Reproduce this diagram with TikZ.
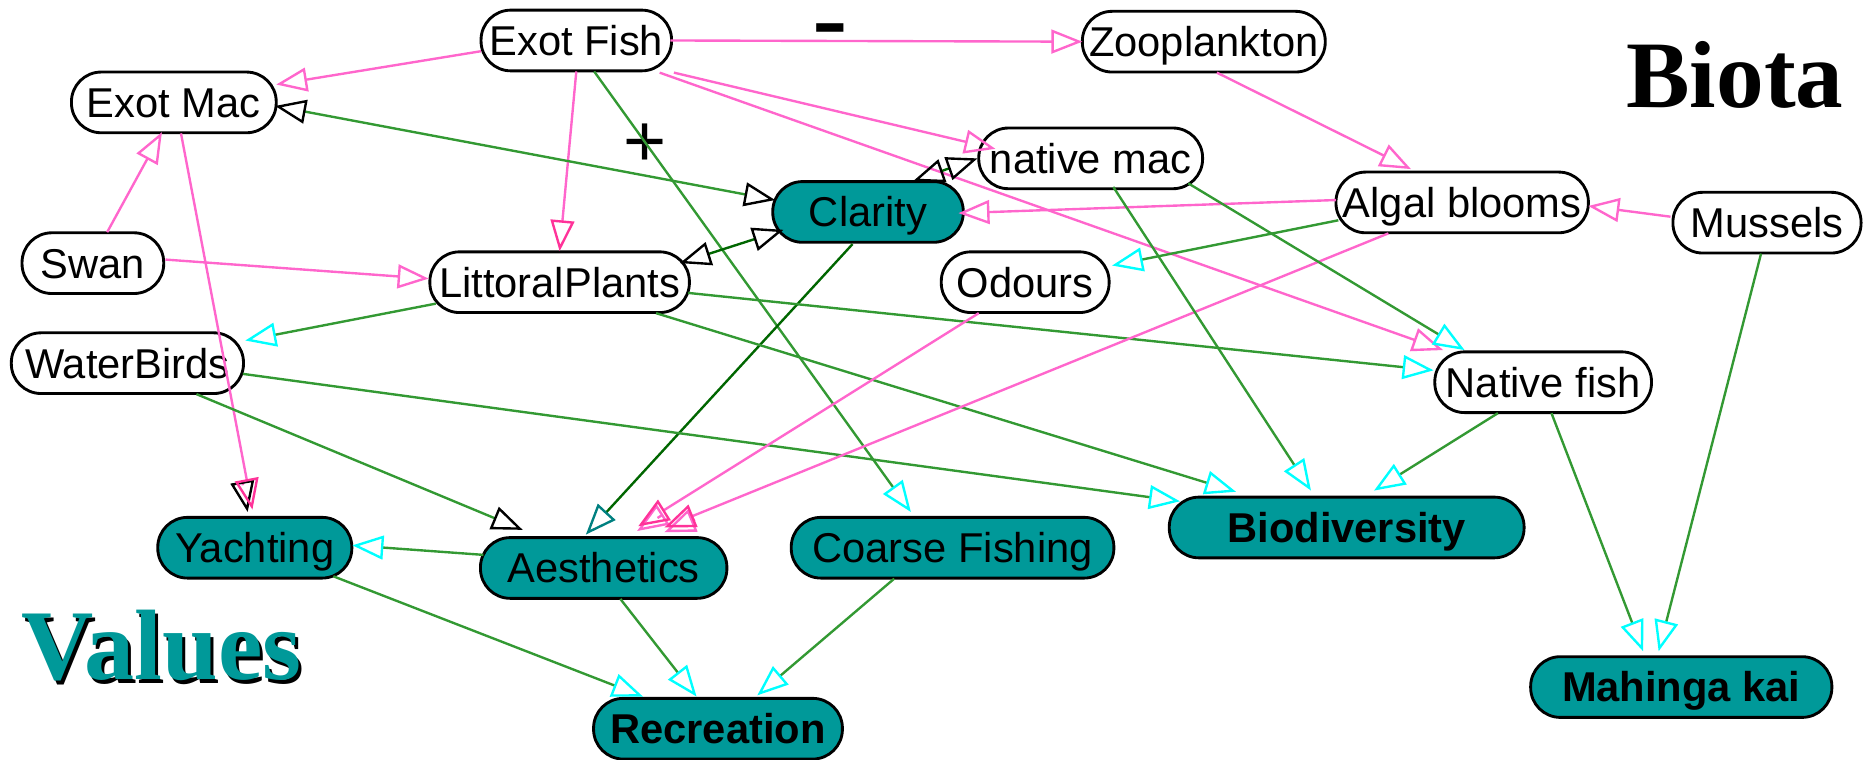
\documentclass[tikz,border=0pt]{standalone}
\usepackage{fontspec}
\setmainfont{Liberation Sans}
\newfontfamily\titlefont{Liberation Serif}
\usetikzlibrary{arrows.meta}

\definecolor{tealfill}{RGB}{0,153,153}
\definecolor{pinkline}{RGB}{255,102,204}
\definecolor{magentahead}{RGB}{255,51,153}
\definecolor{greenline}{RGB}{51,153,51}
\definecolor{darkgreen}{RGB}{0,102,0}
\definecolor{cyanhead}{RGB}{0,255,255}
\definecolor{tealhead}{RGB}{0,128,128}

\tikzset{
  box/.style={draw=black, line width=2.4pt, rounded corners=25pt, minimum height=51pt,
    inner sep=0pt, text height=25pt, text depth=0pt, font=\fontsize{35}{35}\selectfont},
  bio/.style={box, fill=white},
  val/.style={box, fill=tealfill},
  valb/.style={val, font=\fontsize{35}{35}\selectfont\bfseries},
  pk/.style={draw=pinkline, line width=2pt},
  gr/.style={draw=greenline, line width=2pt},
  dg/.style={draw=darkgreen, line width=2pt},
  tocyan/.style={arrows={-Triangle[open,length=26pt,width=20pt,color=cyanhead]}},
  topink/.style={arrows={-Triangle[open,length=26pt,width=20pt,color=pinkline]}},
  tomag/.style={arrows={-Triangle[open,length=26pt,width=20pt,color=magentahead]}},
  toblack/.style={arrows={-Triangle[open,length=26pt,width=20pt,color=black]}},
  toteal/.style={arrows={-Triangle[open,length=26pt,width=20pt,color=tealhead]}},
  bothblack/.style={arrows={Triangle[open,length=26pt,width=20pt,color=black]-Triangle[open,length=26pt,width=20pt,color=black]}},
  bigtitle/.style={inner sep=0pt, font=\titlefont\bfseries\fontsize{80}{80}\selectfont},
}

\begin{document}
\begin{tikzpicture}[x=1pt, y=-1pt]
\useasboundingbox (0,0) rectangle (1568,638);

% biota
\node[bio, minimum width=160pt] (exotfish)   at (484,34)   {Exot Fish};
\node[bio, minimum width=172pt] (exotmac)    at (146,86)   {Exot Mac};
\node[bio, minimum width=204pt] (zoo)        at (1011,35)  {Zooplankton};
\node[bio, minimum width=188pt] (nativemac)  at (916,133)  {native mac};
\node[bio, minimum width=212pt] (algal)      at (1228,170) {Algal blooms};
\node[bio, minimum width=158pt] (mussels)    at (1484,187) {Mussels};
\node[bio, minimum width=119pt] (swan)       at (78,221)   {Swan};
\node[bio, minimum width=218pt] (littoral)   at (470,237)  {LittoralPlants};
\node[bio, minimum width=141pt] (odours)     at (861,237)  {Odours};
\node[bio, minimum width=195pt] (waterbirds) at (107,305)  {WaterBirds};
\node[bio, minimum width=182pt] (nativefish) at (1296,321) {Native fish};

% values
\node[val,  minimum width=160pt] (clarity)    at (729,178)  {Clarity};
\node[val,  minimum width=163pt] (yachting)   at (214,460)  {Yachting};
\node[val,  minimum width=207pt] (aesthetics) at (507,477)  {Aesthetics};
\node[val,  minimum width=271pt] (coarse)     at (800,460)  {Coarse Fishing};
\node[valb, minimum width=298pt] (biodiv)     at (1131,443) {Biodiversity};
\node[valb, minimum width=253pt] (mahinga)    at (1412,577) {Mahinga kai};
\node[valb, minimum width=209pt] (recreation) at (603,612)  {Recreation};

% headings
\node[bigtitle, anchor=base] (biota) at (1457,90) {Biota};
\node[bigtitle, font=\titlefont\bfseries\fontsize{84}{84}\selectfont, anchor=base west, text=black] (valuesshadow) at (20.5,574) {Values};
\node[bigtitle, font=\titlefont\bfseries\fontsize{84}{84}\selectfont, anchor=base west, text=tealfill] (values) at (18,571) {Values};

% sign labels
\node[inner sep=0pt, anchor=base, font=\bfseries\fontsize{30}{30}\selectfont] (minus) at (697,39) {\scalebox{3}[2]{-}};
\node[inner sep=0pt, font=\fontsize{62}{62}\selectfont] (plus) at (542,122) {+};

% links from the exotic fish
\draw[pk, topink] ([shift={(-80,9)}]exotfish.center) -- ([shift={(86,-15)}]exotmac.center);
\draw[pk, topink] ([shift={(79,0)}]exotfish.center) -- ([shift={(-102,0)}]zoo.center);
\draw[pk, tomag]  ([shift={(0,26)}]exotfish.center) -- ([shift={(0,-26)}]littoral.center);
\draw[gr, tocyan] ([shift={(15,26)}]exotfish.center) -- ([shift={(-35,-30)}]coarse.center);
\draw[pk, topink] ([shift={(82,27)}]exotfish.center) -- ([shift={(-80,-8)}]nativemac.center);
\draw[pk, topink] ([shift={(70,27)}]exotfish.center) -- ([shift={(-84,-27)}]nativefish.center);

% clarity links
\draw[gr, bothblack] ([shift={(-78,-10)}]clarity.center) -- ([shift={(85,3)}]exotmac.center);
\draw[dg, bothblack] ([shift={(-71,15)}]clarity.center) -- ([shift={(101,-16)}]littoral.center);
\draw[dg, bothblack] ([shift={(38,-26)}]clarity.center) -- ([shift={(-95,0)}]nativemac.center);
\draw[pk, topink] ([shift={(-106,-2)}]algal.center) -- ([shift={(76,1)}]clarity.center);
\draw[dg, toteal] ([shift={(-13,27)}]clarity.center) -- ([shift={(-15,-28)}]aesthetics.center);

% other biota links
\draw[pk, topink] ([shift={(11,26)}]zoo.center) -- ([shift={(-43,-28)}]algal.center);
\draw[pk, topink] ([shift={(-81,-5)}]mussels.center) -- ([shift={(106,3)}]algal.center);
\draw[pk, topink] ([shift={(12,-26)}]swan.center) -- ([shift={(-10,25)}]exotmac.center);
\draw[pk, topink] ([shift={(61,-3)}]swan.center) -- ([shift={(-110,-3)}]littoral.center);
\draw[pk, toblack, shorten <=300pt] ([shift={(6,26)}]exotmac.center) -- ([shift={(-6,-30)}]yachting.center);
\draw[pk, tomag] ([shift={(6,26)}]exotmac.center) -- ([shift={(-2,-32)}]yachting.center);
\draw[gr, tocyan] ([shift={(-104,18)}]littoral.center) -- ([shift={(99,-19)}]waterbirds.center);
\draw[gr, tocyan] ([shift={(108,9)}]littoral.center) -- ([shift={(-92,-10)}]nativefish.center);
\draw[gr, tocyan] ([shift={(81,26)}]littoral.center) -- ([shift={(-93,-30)}]biodiv.center);
\draw[gr, tocyan] ([shift={(97,9)}]waterbirds.center) -- ([shift={(-140,-22)}]biodiv.center);
\draw[gr, toblack] ([shift={(58,26)}]waterbirds.center) -- ([shift={(-68,-32)}]aesthetics.center);
\draw[pk, topink, shorten <=320pt] ([shift={(-39,26)}]odours.center) -- ([shift={(28,-31)}]aesthetics.center);
\draw[pk, tomag]  ([shift={(-39,26)}]odours.center) -- ([shift={(29,-35)}]aesthetics.center);
\draw[pk, topink, shorten <=630pt] ([shift={(-62,26)}]algal.center) -- ([shift={(51,-30)}]aesthetics.center);
\draw[pk, tomag]  ([shift={(-62,26)}]algal.center) -- ([shift={(51,-34)}]aesthetics.center);
\draw[gr, tocyan] ([shift={(-104,15)}]algal.center) -- ([shift={(73,-14)}]odours.center);
\draw[gr, tocyan] ([shift={(82,21)}]nativemac.center) -- ([shift={(-66,-27)}]nativefish.center);
\draw[gr, tocyan] ([shift={(19,24)}]nativemac.center) -- ([shift={(-30,-31)}]biodiv.center);
\draw[gr, tocyan] ([shift={(-38,26)}]nativefish.center) -- ([shift={(23,-31)}]biodiv.center);
\draw[gr, tocyan] ([shift={(7,26)}]nativefish.center) -- ([shift={(-32,-30)}]mahinga.center);
\draw[gr, tocyan] ([shift={(-5,26)}]mussels.center) -- ([shift={(-19,-30)}]mahinga.center);

% value links
\draw[gr, tocyan] ([shift={(-101,-11)}]aesthetics.center) -- ([shift={(82,-2)}]yachting.center);
\draw[gr, tocyan] ([shift={(66,24)}]yachting.center) -- ([shift={(-63,-27)}]recreation.center);
\draw[gr, tocyan] ([shift={(14,26)}]aesthetics.center) -- ([shift={(-18,-27)}]recreation.center);
\draw[gr, tocyan] ([shift={(-49,26)}]coarse.center) -- ([shift={(33,-28)}]recreation.center);
\end{tikzpicture}
\end{document}
